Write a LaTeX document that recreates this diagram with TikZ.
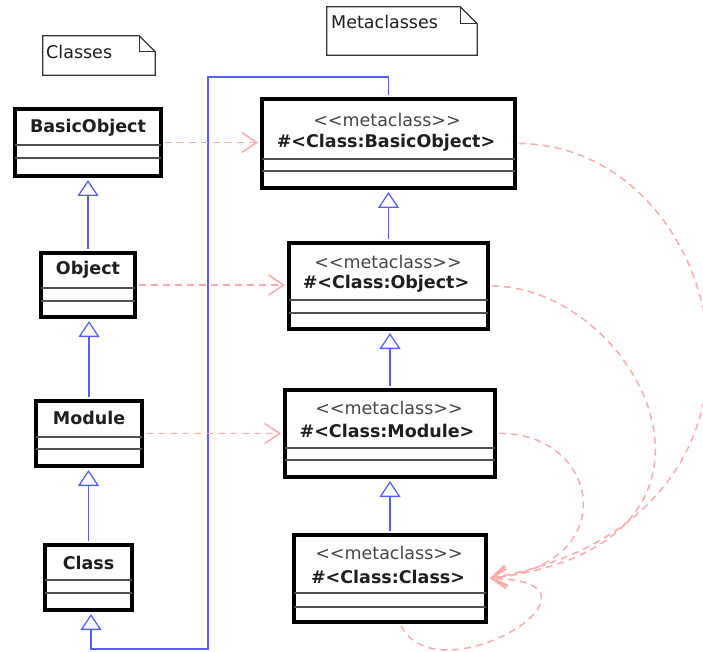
\documentclass[tikz,border=0pt]{standalone}
\usepackage{fontspec}
\setmainfont{DejaVu Sans}[Ligatures=TeXOff]
\usetikzlibrary{arrows.meta}
\definecolor{genblue}{RGB}{85,95,255}
\definecolor{deppink}{RGB}{255,170,170}
\definecolor{txtcol}{RGB}{30,30,30}
\definecolor{stcol}{RGB}{70,70,70}
\definecolor{divcol}{RGB}{80,80,80}
\newcommand\dgfont{\fontsize{17.5}{20}\selectfont}
\begin{document}
\begin{tikzpicture}[x=1pt,y=-1pt,
  classbox/.style={draw=black, line width=4pt, fill=white, inner sep=0pt, rectangle},
  divider/.style={draw=divcol, line width=1.1pt, shorten <=2pt, shorten >=2pt},
  cname/.style={inner sep=0pt, text=txtcol, font=\dgfont\bfseries},
  stereo/.style={inner sep=0pt, text=stcol, font=\dgfont},
  notebox/.style={inner sep=0pt, rectangle},
  noteline/.style={draw=black!80, line width=1.2pt, fill=white, line join=miter},
  notetext/.style={inner sep=0pt, text=txtcol, font=\dgfont, anchor=west},
  gen/.style={draw=genblue, line width=1.4pt, -{Triangle[open, length=16pt, width=21pt, line width=1.3pt]}, shorten >=2pt, shorten <=2pt},
  dep/.style={draw=deppink, line width=1.5pt, dash pattern=on 7pt off 5pt, -{Straight Barb[length=15pt, width=20pt, line width=1.5pt]}, shorten >=2pt, shorten <=2pt}
]
\useasboundingbox (0,0) rectangle (703,652);

% notes
\node[notebox, minimum width=112pt, minimum height=39pt] (n1) at (99,55.5) {};
\draw[noteline] (n1.south west) -- (n1.north west) -- ([xshift=-16pt]n1.north east) -- ([yshift=-16pt]n1.north east) -- (n1.south east) -- cycle;
\draw[noteline, fill=none] ([xshift=-16pt]n1.north east) |- ([yshift=-16pt]n1.north east);
\node[notetext] (n1t) at (46,52) {Classes};

\node[notebox, minimum width=150pt, minimum height=48pt] (n2) at (402,31) {};
\draw[noteline] (n2.south west) -- (n2.north west) -- ([xshift=-17pt]n2.north east) -- ([yshift=-17pt]n2.north east) -- (n2.south east) -- cycle;
\draw[noteline, fill=none] ([xshift=-17pt]n2.north east) |- ([yshift=-17pt]n2.north east);
\node[notetext] (n2t) at (331,22) {Metaclasses};

% blue route from metaclass BasicObject to Class
\coordinate (t1) at (208,77);
\coordinate (t2) at (208,649);
\coordinate (t3) at (91,649);

% class boxes
\node[classbox, minimum width=146pt, minimum height=67pt] (bo) at (88,142.5) {};
\node[classbox, minimum width=94pt, minimum height=64pt] (obj) at (88,285) {};
\node[classbox, minimum width=106pt, minimum height=65pt] (mod) at (89,433.5) {};
\node[classbox, minimum width=87pt, minimum height=65pt] (cls) at (88.5,577.5) {};

\node[classbox, minimum width=253pt, minimum height=89pt] (mbo) at (388.5,143.5) {};
\node[classbox, minimum width=199pt, minimum height=86pt] (mobj) at (388.5,286) {};
\node[classbox, minimum width=210pt, minimum height=87pt] (mmod) at (390,433.5) {};
\node[classbox, minimum width=192pt, minimum height=87pt] (mcls) at (390,578.5) {};

% dividers
\draw[divider] (bo.west |- 0,145) -- (bo.east |- 0,145);
\draw[divider] (bo.west |- 0,158) -- (bo.east |- 0,158);
\draw[divider] (obj.west |- 0,288) -- (obj.east |- 0,288);
\draw[divider] (obj.west |- 0,301) -- (obj.east |- 0,301);
\draw[divider] (mod.west |- 0,437) -- (mod.east |- 0,437);
\draw[divider] (mod.west |- 0,449) -- (mod.east |- 0,449);
\draw[divider] (cls.west |- 0,580) -- (cls.east |- 0,580);
\draw[divider] (cls.west |- 0,593) -- (cls.east |- 0,593);

\draw[divider] (mbo.west |- 0,159) -- (mbo.east |- 0,159);
\draw[divider] (mbo.west |- 0,171) -- (mbo.east |- 0,171);
\draw[divider] (mobj.west |- 0,300) -- (mobj.east |- 0,300);
\draw[divider] (mobj.west |- 0,313) -- (mobj.east |- 0,313);
\draw[divider] (mmod.west |- 0,448) -- (mmod.east |- 0,448);
\draw[divider] (mmod.west |- 0,460) -- (mmod.east |- 0,460);
\draw[divider] (mcls.west |- 0,593) -- (mcls.east |- 0,593);
\draw[divider] (mcls.west |- 0,607) -- (mcls.east |- 0,607);

% texts
\node[cname] (bo-t) at (88,128) {BasicObject};
\node[cname] (obj-t) at (88,270) {Object};
\node[cname] (mod-t) at (89,418) {Module};
\node[cname] (cls-t) at (88.5,563) {Class};

\node[stereo] (mbo-s) at (387,120) {<<metaclass>>};
\node[cname] (mbo-t) at (386,143) {\#<Class:BasicObject>};
\node[stereo] (mobj-s) at (388,262) {<<metaclass>>};
\node[cname] (mobj-t) at (386,284) {\#<Class:Object>};
\node[stereo] (mmod-s) at (389,408) {<<metaclass>>};
\node[cname] (mmod-t) at (387,431) {\#<Class:Module>};
\node[stereo] (mcls-s) at (389,553) {<<metaclass>>};
\node[cname] (mcls-t) at (388,577) {\#<Class:Class>};

% generalizations
\draw[gen] (obj.north) -- (bo.south);
\draw[gen] (mod.north) -- (mod.north |- obj.south);
\draw[gen] (cls.north) -- (cls.north |- mod.south);
\draw[gen] (mobj.north) -- (mbo.south);
\draw[gen] (mmod.north) -- (mmod.north |- mobj.south);
\draw[gen] (mcls.north) -- (mmod.south);
\draw[gen] (mbo.north) |- (t1) -- (t2) -- (t3) -- (t3 |- cls.south);

% instance-of dependencies
\draw[dep] (bo.east) -- (mbo.west |- bo.east);
\draw[dep] (obj.east) -- (mobj.west |- obj.east);
\draw[dep] (mod.east) -- (mmod.west |- mod.east);

\draw[dep] (mbo.east) .. controls (730,145) and (820,520) .. (mcls.east);
\draw[dep] (mobj.east) .. controls (640,287) and (770,545) .. (mcls.east);
\draw[dep] (mmod.east) .. controls (600,432) and (625,565) .. (mcls.east);
\draw[dep] ([xshift=10pt]mcls.south) .. controls (440,700) and (630,580) .. (mcls.east);
\end{tikzpicture}
\end{document}
